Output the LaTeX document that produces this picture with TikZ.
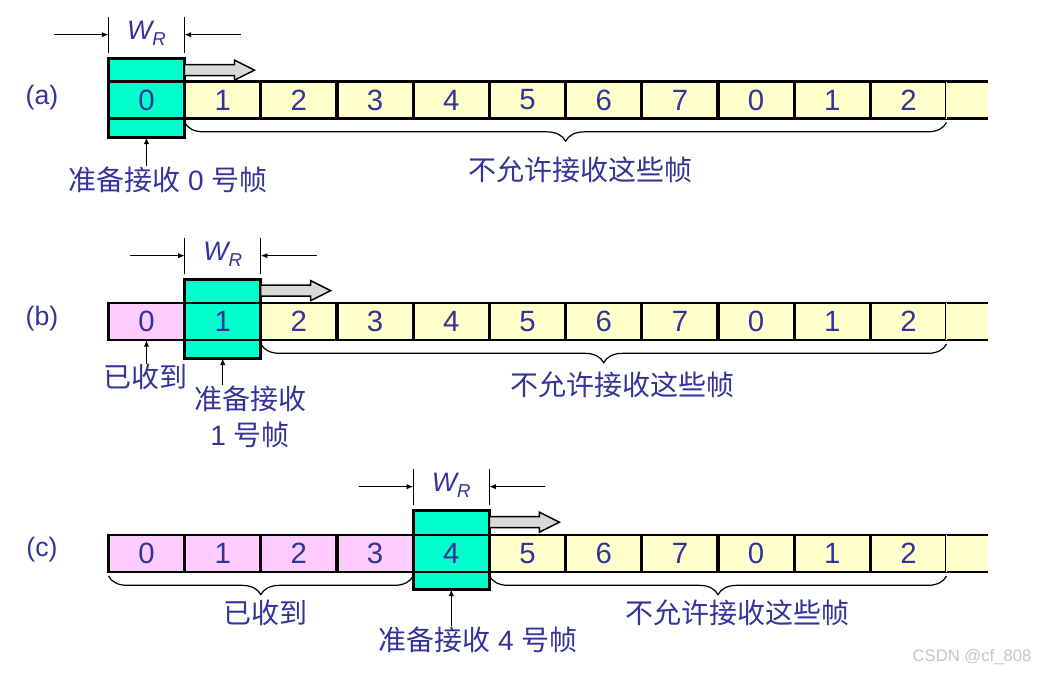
\documentclass[tikz,border=0pt]{standalone}
\usepackage{fontspec}
\setmainfont{Liberation Sans}
\newfontfamily\cjk{Noto Sans CJK SC}
\usetikzlibrary{arrows.meta, positioning, decorations.pathreplacing}
\definecolor{mWin}{HTML}{00FFCC}
\definecolor{mNew}{HTML}{FFFFCC}
\definecolor{mGot}{HTML}{FFCCFF}
\definecolor{mText}{HTML}{333399}

\begin{document}
\begin{tikzpicture}[x=0.75pt, y=-0.75pt,
      >={Latex[length=5pt,width=4pt]}, line width=0.9pt,
      cell/.style={rectangle, draw, line width=2.2pt, minimum width=57pt,
                   minimum height=27.75pt, inner sep=0pt, outer sep=0pt,
                   font=\fontsize{22}{24}\selectfont, text=mText},
      newf/.style={cell, fill=mNew},
      gotf/.style={cell, fill=mGot},
      winf/.style={cell, fill=mWin},
      winbox/.style={rectangle, draw, line width=2pt, fill=mWin, outer sep=0pt,
                     minimum width=57pt, minimum height=59pt},
      tailf/.style={rectangle, fill=mNew, minimum width=31.5pt, outer sep=0pt,
                    minimum height=27.75pt, inner sep=0pt},
      edge/.style={line width=2.2pt},
      fatarrow/.style={draw, line width=1.1pt, fill=gray!30, line join=miter},
      lbl/.style={text=mText, font=\fontsize{21}{27}\selectfont, inner sep=0pt},
      tag/.style={text=mText, font=\fontsize{20}{22}\selectfont, inner sep=0pt},
      wr/.style={text=mText, font=\fontsize{20}{22}\selectfont\itshape, inner sep=0pt},
      brc/.style={decorate, decoration={brace, mirror, amplitude=14pt, raise=3pt}}]
    \useasboundingbox (0,0) rectangle (1043,675);

    % (a)
    \node[tag] (ta) at (42,98) {(a)};
    \node[winbox] (wa) at (146.5,98) {};
    \node[winf] (a0) at (146.5,100) {0};
    \foreach \i/\t in {1/1,2/2,3/3,4/4,5/5,6/6,7/7,8/0,9/1,10/2}
      \node[newf] (a\i) at ({146.5+76.2*\i},100) {\t};
    \node[tailf] (a11) at (967,100) {};
    \draw[edge] (a10.north east) -- (a11.north east);
    \draw[edge] (a10.south east) -- (a11.south east);
    \draw[fatarrow] (wa.north east) ++(0,6) -- ++(50,0) -- ++(0,-4.5) -- ++(20,10)
      -- ++(-20,10) -- ++(0,-4.5) -- ++(-50,0) -- cycle;
    \draw ([yshift=4pt]wa.north west) -- ([yshift=31pt]wa.north west);
    \draw ([yshift=4pt]wa.north east) -- ([yshift=31pt]wa.north east);
    \draw[->] ([xshift=-41pt,yshift=18pt]wa.north west) -- ([yshift=18pt]wa.north west);
    \draw[->] ([xshift=42pt,yshift=18pt]wa.north east) -- ([yshift=18pt]wa.north east);
    \node[wr] (wra) at ([yshift=19pt]wa.north) {W\raisebox{-5pt}{\fontsize{14}{14}\selectfont R}};
    \draw[brc] (a1.south west) -- (a10.south east);
    \node[lbl] (na) at (580,170) {\cjk 不允许接收这些帧};
    \node[lbl] (la) at (168,180) {{\cjk 准备接收} 0 {\cjk 号帧}};
    \draw[->] (wa.south |- la.north) -- (wa.south);

    % (b)
    \node[tag] (tb) at (42,319) {(b)};
    \node[winbox] (wb) at (222.7,319) {};
    \node[gotf] (b0) at (146.5,321.5) {0};
    \node[winf] (b1) at (222.7,321.5) {1};
    \foreach \i/\t in {2/2,3/3,4/4,5/5,6/6,7/7,8/0,9/1,10/2}
      \node[newf] (b\i) at ({146.5+76.2*\i},321.5) {\t};
    \node[tailf] (b11) at (967,321.5) {};
    \draw[edge] (b10.north east) -- (b11.north east);
    \draw[edge] (b10.south east) -- (b11.south east);
    \draw[fatarrow] (wb.north east) ++(0,5.5) -- ++(50,0) -- ++(0,-4.5) -- ++(20,10)
      -- ++(-20,10) -- ++(0,-4.5) -- ++(-50,0) -- cycle;
    \draw ([yshift=4pt]wb.north west) -- ([yshift=31pt]wb.north west);
    \draw ([yshift=4pt]wb.north east) -- ([yshift=31pt]wb.north east);
    \draw[->] ([xshift=-41pt,yshift=18pt]wb.north west) -- ([yshift=18pt]wb.north west);
    \draw[->] ([xshift=42pt,yshift=18pt]wb.north east) -- ([yshift=18pt]wb.north east);
    \node[wr] (wrb) at ([yshift=19pt]wb.north) {W\raisebox{-5pt}{\fontsize{14}{14}\selectfont R}};
    \draw[brc] (b2.south west) -- (b10.south east);
    \node[lbl] (nb) at (622,385) {\cjk 不允许接收这些帧};
    \node[lbl] (rb) at (145,377) {\cjk 已收到};
    \node[lbl, align=center] (lb) at (250,417) {{\cjk 准备接收}\\1 {\cjk 号帧}};
    \draw[->] (b0.south |- rb.north) -- (b0.south);
    \draw[->] (wb.south |- lb.north) -- (wb.south);

    % (c)
    \node[tag] (tc) at (42,550) {(c)};
    \node[winbox] (wc) at (451.3,550) {};
    \foreach \i/\t in {0/0,1/1,2/2,3/3}
      \node[gotf] (c\i) at ({146.5+76.2*\i},553.5) {\t};
    \node[winf] (c4) at (451.3,553.5) {4};
    \foreach \i/\t in {5/5,6/6,7/7,8/0,9/1,10/2}
      \node[newf] (c\i) at ({146.5+76.2*\i},553.5) {\t};
    \node[tailf] (c11) at (967,553.5) {};
    \draw[edge] (c10.north east) -- (c11.north east);
    \draw[edge] (c10.south east) -- (c11.south east);
    \draw[fatarrow] (wc.north east) ++(0,6) -- ++(50,0) -- ++(0,-4.5) -- ++(20,10)
      -- ++(-20,10) -- ++(0,-4.5) -- ++(-50,0) -- cycle;
    \draw ([yshift=4pt]wc.north west) -- ([yshift=31pt]wc.north west);
    \draw ([yshift=4pt]wc.north east) -- ([yshift=31pt]wc.north east);
    \draw[->] ([xshift=-41pt,yshift=18pt]wc.north west) -- ([yshift=18pt]wc.north west);
    \draw[->] ([xshift=42pt,yshift=18pt]wc.north east) -- ([yshift=18pt]wc.north east);
    \node[wr] (wrc) at ([yshift=19pt]wc.north) {W\raisebox{-5pt}{\fontsize{14}{14}\selectfont R}};
    \draw[brc] (c0.south west) -- (c3.south east);
    \draw[brc] (c5.south west) -- (c10.south east);
    \node[lbl] (rc) at (265,613) {\cjk 已收到};
    \node[lbl] (nc) at (737,613) {\cjk 不允许接收这些帧};
    \node[lbl] (lc) at (478,640) {{\cjk 准备接收} 4 {\cjk 号帧}};
    \draw[->] (wc.south |- lc.north) -- (wc.south);

    \node[text=gray!45, font=\fontsize{12.5}{14}\selectfont, inner sep=0pt] (wm) at (972,657) {CSDN @cf\_808};
  \end{tikzpicture}
\end{document}
